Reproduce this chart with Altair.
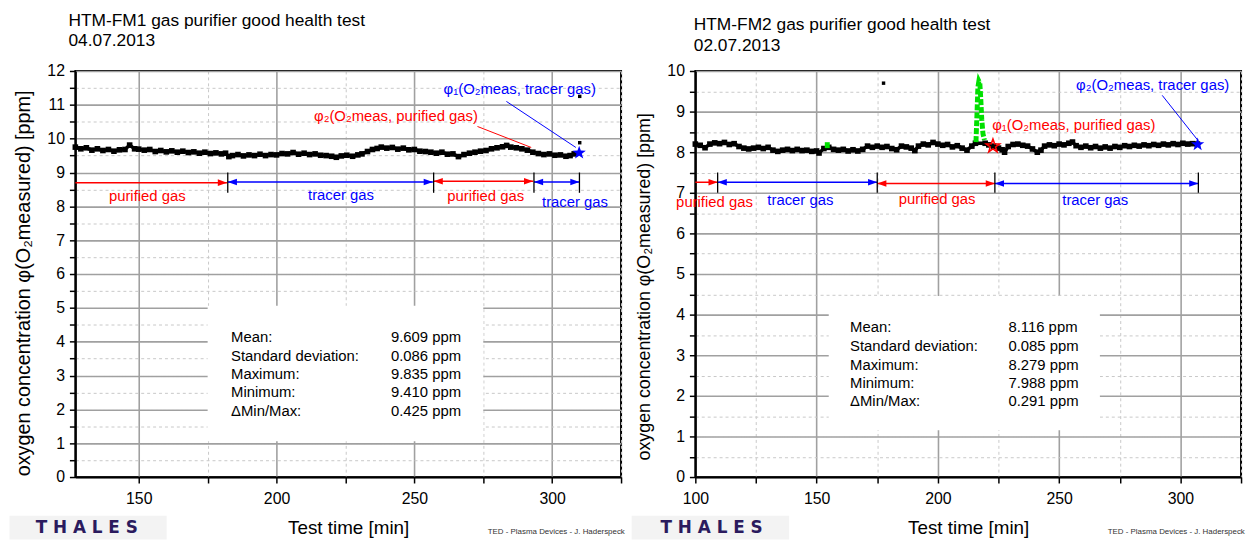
import altair as alt
import pandas as pd

FONT = "Liberation Sans"
PW, PH = 551, 410
RED, BLUE, GREEN = "#ff0000", "#0000ff", "#00e000"
STAR = ("M0,-1L0.235,-0.324L0.951,-0.309L0.380,0.124L0.588,0.809L0,0.4"
        "L-0.588,0.809L-0.380,0.124L-0.951,-0.309L-0.235,-0.324Z")
HEAD_R = "M1,0L-1,-0.72L-1,0.72Z"
HEAD_L = "M-1,0L1,-0.72L1,0.72Z"

X_TITLE = "Test time [min]"
Y_TITLE = "oxygen concentration φ(O₂measured) [ppm]"
STAT_LABELS = ["Mean:", "Standard deviation:", "Maximum:", "Minimum:", "ΔMin/Max:"]
LOGO = "THALES"
FOOTER = "TED - Plasma Devices - J. Haderspeck"
GAS_TEXT = ["purified gas", "tracer gas", "purified gas", "tracer gas"]
GAS_COL = [RED, BLUE, RED, BLUE]

# ---------------- left panel: HTM-FM1 ----------------
L_TITLE = ["HTM-FM1 gas purifier good health test", "04.07.2013"]
L_XDOM = [127, 325]
L_YDOM = [0, 12]
L_XTICKS = [150, 175, 200, 225, 250, 275, 300, 325]
L_YTICKS = [0, 0.5, 1, 1.5, 2, 2.5, 3, 3.5, 4, 4.5, 5, 5.5, 6, 6.5, 7, 7.5, 8, 8.5, 9, 9.5, 10, 10.5, 11, 11.5, 12]
L_T = [127, 129, 131, 133, 135, 137, 139, 141, 143, 145,
       146.7, 148.5, 150, 152, 154, 156, 158, 160, 162, 164,
       166, 168, 170, 172, 174, 176, 178, 180, 181.5, 182.7,
       184, 186, 188, 190, 192, 194, 196, 198, 200, 202,
       204, 206, 208, 210, 212, 214, 216, 218, 220, 221.7,
       223.5, 225.5, 227.6, 229.5, 231, 233, 234.8, 236.5, 238, 240,
       242, 244, 246, 248, 250, 252, 254, 256, 258, 260,
       262, 264, 266, 268, 270, 272, 274, 276, 278, 280,
       282, 283.5, 285, 287, 289, 291, 293, 295, 297, 299,
       301, 303, 305, 306.5, 308]
L_V = [9.75, 9.70, 9.73, 9.66, 9.70, 9.65, 9.68, 9.63, 9.67, 9.68,
       9.81, 9.70, 9.69, 9.66, 9.68, 9.62, 9.65, 9.61, 9.64, 9.60,
       9.63, 9.59, 9.61, 9.57, 9.60, 9.56, 9.58, 9.55, 9.57, 9.47,
       9.50, 9.53, 9.49, 9.52, 9.50, 9.54, 9.50, 9.53, 9.52, 9.56,
       9.55, 9.59, 9.54, 9.57, 9.53, 9.55, 9.51, 9.50, 9.48, 9.45,
       9.49, 9.51, 9.48, 9.52, 9.55, 9.62, 9.68, 9.71, 9.75, 9.72,
       9.74, 9.69, 9.72, 9.67, 9.68, 9.63, 9.62, 9.60, 9.57, 9.60,
       9.54, 9.55, 9.47, 9.53, 9.57, 9.60, 9.63, 9.65, 9.70, 9.73,
       9.76, 9.80, 9.75, 9.73, 9.70, 9.66, 9.60, 9.56, 9.53, 9.55,
       9.51, 9.52, 9.48, 9.50, 9.55]
L_DOT_T = [310.0, 310.0]
L_DOT_V = [11.25, 9.88]
L_SEG_X1 = [127.0, 182.3, 257.0, 293.4]
L_SEG_X2 = [182.0, 256.7, 293.1, 309.9]
L_SEG_Y = [8.70, 8.72, 8.74, 8.72]
L_SEG_BOTH = [False, True, True, True]
L_TICK_X = [182.3, 257.0, 293.4, 309.9]
L_TICK_Y = [8.40, 9.00]
L_GAS_X = [153.1, 223.4, 275.9, 308.3]
L_GAS_Y = [8.30, 8.34, 8.31, 8.12]
L_NOTE_TEXT = ["φ₂(O₂meas, purified gas)", "φ₁(O₂meas, tracer gas)"]
L_NOTE_X = [213.6, 260.6]
L_NOTE_Y = [10.68, 11.46]
L_NOTE_COL = [RED, BLUE]
L_LEAD_X1 = [272.9, 283.4]
L_LEAD_Y1 = [10.36, 11.10]
L_LEAD_X2 = [292.4, 308.6]
L_LEAD_Y2 = [9.74, 9.74]
L_LEAD_COL = [RED, BLUE]
L_STAR_X = [309.8]
L_STAR_Y = [9.58]
L_STAR_COL = [BLUE]
L_STAR_FILLED = [True]
L_BOX = [175.0, 275.0, 1.06, 5.06]
L_STAT_VALUES = ["9.609 ppm", "0.086 ppm", "9.835 ppm", "9.410 ppm", "0.425 ppm"]
L_STAT_X = [183.5, 241.5]
L_STAT_Y = [4.125, 3.585, 3.045, 2.505, 1.965]

# ---------------- right panel: HTM-FM2 ----------------
R_TITLE = ["HTM-FM2 gas purifier good health test", "02.07.2013"]
R_XDOM = [100, 325]
R_YDOM = [0, 10]
R_XTICKS = [100, 125, 150, 175, 200, 225, 250, 275, 300, 325]
R_YTICKS = [0, 0.5, 1, 1.5, 2, 2.5, 3, 3.5, 4, 4.5, 5, 5.5, 6, 6.5, 7, 7.5, 8, 8.5, 9, 9.5, 10]
R_T = [100, 102, 104, 106, 108, 110, 112, 114, 116, 118,
       120, 122, 124, 126, 128, 130, 132, 134, 136, 138,
       140, 142, 144, 146, 148, 150, 151, 153, 155, 157,
       159, 161, 163, 165, 167, 169, 171, 173, 175, 177,
       179, 181, 183, 185, 187, 189, 190.5, 192, 194, 196,
       198, 200, 202, 204, 206, 208, 210, 212, 214, 215.5,
       219.5, 221, 223, 225, 226.5, 227.5, 229, 231, 233, 235,
       237, 239, 241, 242.5, 244, 246, 248, 250, 252, 254,
       255.5, 257, 259, 261, 263, 265, 267, 269, 271, 273,
       275, 277, 279, 281, 283, 285, 287, 289, 291, 293,
       295, 297, 299, 301, 303, 305, 307]
R_V = [8.20, 8.17, 8.11, 8.20, 8.23, 8.21, 8.24, 8.19, 8.21, 8.14,
       8.10, 8.08, 8.10, 8.12, 8.09, 8.12, 8.05, 8.02, 8.05, 8.07,
       8.04, 8.07, 8.04, 8.05, 8.02, 8.03, 7.98, 8.09, 8.12, 8.07,
       8.05, 8.07, 8.03, 8.06, 8.03, 8.07, 8.15, 8.12, 8.15, 8.12,
       8.14, 8.09, 8.06, 8.15, 8.13, 8.10, 8.04, 8.15, 8.20, 8.18,
       8.24, 8.20, 8.17, 8.19, 8.13, 8.16, 8.10, 8.05, 8.15, 8.22,
       8.22, 8.18, 8.15, 8.10, 8.06, 8.00, 8.14, 8.19, 8.20, 8.17,
       8.15, 8.08, 8.00, 8.05, 8.15, 8.18, 8.16, 8.20, 8.18, 8.22,
       8.25, 8.16, 8.12, 8.15, 8.11, 8.14, 8.10, 8.13, 8.10, 8.14,
       8.12, 8.16, 8.14, 8.17, 8.15, 8.18, 8.16, 8.19, 8.17, 8.20,
       8.18, 8.21, 8.19, 8.22, 8.20, 8.21, 8.20]
R_GREEN_T = [154.4, 154.4, 215.7, 216.1, 216.5, 216.9, 217.3, 217.7, 218.1, 218.6, 219.2]
R_GREEN_V = [8.10, 8.25, 8.25, 8.90, 9.60, 9.75, 9.70, 9.30, 8.80, 8.45, 8.30]
R_GREEN_SEG = [0, 0, 1, 1, 1, 1, 1, 1, 1, 1, 1]
R_DOT_T = [177.6]
R_DOT_V = [9.70]
R_SEG_X1 = [100.0, 109.2, 175.0, 223.5]
R_SEG_X2 = [109.2, 175.0, 223.5, 307.4]
R_SEG_Y = [7.26, 7.26, 7.23, 7.23]
R_SEG_BOTH = [False, True, True, True]
R_TICK_X = [109.2, 175.0, 223.5, 307.4]
R_TICK_Y = [7.00, 7.50]
R_GAS_X = [107.9, 143.3, 199.7, 264.9]
R_GAS_Y = [6.77, 6.81, 6.85, 6.82]
R_NOTE_TEXT = ["φ₁(O₂meas, purified gas)", "φ₂(O₂meas, tracer gas)"]
R_NOTE_X = [222.4, 257.0]
R_NOTE_Y = [8.67, 9.65]
R_NOTE_COL = [RED, BLUE]
R_LEAD_X1 = [292.5]
R_LEAD_Y1 = [9.40]
R_LEAD_X2 = [307.1]
R_LEAD_Y2 = [8.30]
R_LEAD_COL = [BLUE]
R_STAR_X = [222.7, 307.1]
R_STAR_Y = [8.15, 8.19]
R_STAR_COL = [RED, BLUE]
R_STAR_FILLED = [False, True]
R_BOX = [155.0, 266.8, 1.15, 4.46]
R_STAT_VALUES = ["8.116 ppm", "0.085 ppm", "8.279 ppm", "7.988 ppm", "0.291 ppm"]
R_STAT_X = [163.8, 229.1]
R_STAT_Y = [3.685, 3.236, 2.769, 2.317, 1.875]


def cond(test, a, b):
    return {"condition": {"test": test, "value": a}, "value": b}


def panel(p):
    xs = alt.Scale(domain=p["xdom"], nice=False, zero=False)
    ys = alt.Scale(domain=p["ydom"], nice=False, zero=False)
    xt = "datum.value % 50 !== 0"
    yt = "datum.value % 1 !== 0"
    common = dict(labelFont=FONT, labelFontSize=16, labelColor="black",
                  labelOverlap=False, labelFlush=False,
                  tickSize=6, tickColor="black", tickWidth=1.5,
                  domainColor="black", domainWidth=2, grid=True,
                  titleFont=FONT, titleFontWeight="normal", titleColor="black")
    xaxis = alt.Axis(
        values=p["xticks"], labelPadding=8,
        labelExpr="datum.value % 50 === 0 ? format(datum.value, 'd') : ''",
        gridColor=cond(xt, "#c8c8c8", "#a0a0a0"),
        gridDash=cond(xt, [3, 3], [1, 0]), gridWidth=cond(xt, 1, 1.6),
        title=X_TITLE, titleFontSize=19, titleBaseline="alphabetic", titleY=57, **common)
    yaxis = alt.Axis(
        values=p["yticks"], labelPadding=5,
        labelExpr="datum.value % 1 === 0 ? format(datum.value, 'd') : ''",
        gridColor=cond(yt, "#c8c8c8", "#a0a0a0"),
        gridDash=cond(yt, [3, 3], [1, 0]), gridWidth=cond(yt, 1, 1.6),
        title=Y_TITLE, titleFontSize=p["ytsize"], titleAngle=270, titleAlign="center",
        titleBaseline="bottom", titleX=p["ytx"], titleY=p["yty"], **common)

    def X(f):
        return alt.X(f, scale=xs, axis=xaxis)

    def Y(f):
        return alt.Y(f, scale=ys, axis=yaxis)

    def C():
        return alt.Color("c:N", scale=None)

    layers = []
    b = p["box"]
    box_df = pd.DataFrame({"x1": [b[0]], "x2": [b[1]], "y1": [b[2]], "y2": [b[3]]})
    layers.append(alt.Chart(box_df).mark_rect(color="white").encode(
        x=X("x1:Q"), x2="x2:Q", y=Y("y1:Q"), y2="y2:Q"))

    ser = pd.DataFrame({"t": p["t"], "v": p["v"]})
    layers.append(alt.Chart(ser).mark_line(color="black", strokeWidth=3.5).encode(x=X("t:Q"), y=Y("v:Q")))
    layers.append(alt.Chart(ser).mark_point(shape="square", filled=True, color="black", size=32, opacity=1)
                  .encode(x=X("t:Q"), y=Y("v:Q")))
    if p.get("gt"):
        g = pd.DataFrame({"t": p["gt"], "v": p["gv"], "s": p["gs"], "i": list(range(len(p["gt"])))})
        layers.append(alt.Chart(g).mark_line(color=GREEN, strokeWidth=5, strokeDash=[6, 2]).encode(
            x=X("t:Q"), y=Y("v:Q"), detail="s:N", order="i:Q"))
    dots = pd.DataFrame({"t": p["dt"], "v": p["dv"]})
    layers.append(alt.Chart(dots).mark_point(shape="square", filled=True, color="black", size=12, opacity=1)
                  .encode(x=X("t:Q"), y=Y("v:Q")))

    cols = GAS_COL
    seg = pd.DataFrame({"x1": p["sx1"], "x2": p["sx2"], "y": p["sy"], "c": cols})
    layers.append(alt.Chart(seg).mark_rule(strokeWidth=1.5).encode(
        x=X("x1:Q"), x2="x2:Q", y=Y("y:Q"), color=C()))
    hr = pd.DataFrame({"x": p["sx2"], "y": p["sy"], "c": cols})
    layers.append(alt.Chart(hr).mark_point(shape=HEAD_R, filled=True, size=86, opacity=1,
                                           xOffset=-4.6).encode(x=X("x:Q"), y=Y("y:Q"), color=C()))
    idx = [i for i, both in enumerate(p["sboth"]) if both]
    hl = pd.DataFrame({"x": [p["sx1"][i] for i in idx], "y": [p["sy"][i] for i in idx],
                       "c": [cols[i] for i in idx]})
    layers.append(alt.Chart(hl).mark_point(shape=HEAD_L, filled=True, size=86, opacity=1,
                                           xOffset=4.6).encode(x=X("x:Q"), y=Y("y:Q"), color=C()))
    tk = pd.DataFrame({"x": p["tx"], "y1": [p["ty"][0]] * len(p["tx"]), "y2": [p["ty"][1]] * len(p["tx"])})
    layers.append(alt.Chart(tk).mark_rule(color="black", strokeWidth=1.3).encode(
        x=X("x:Q"), y=Y("y1:Q"), y2="y2:Q"))
    gas = pd.DataFrame({"s": GAS_TEXT, "x": p["gx"], "y": p["gy"], "c": cols})
    layers.append(alt.Chart(gas).mark_text(font=FONT, fontSize=15, align="center", baseline="middle").encode(
        x=X("x:Q"), y=Y("y:Q"), text="s:N", color=C()))

    notes = pd.DataFrame({"s": p["nt"], "x": p["nx"], "y": p["ny"], "c": p["nc"]})
    layers.append(alt.Chart(notes).mark_text(font=FONT, fontSize=15, align="left", baseline="middle").encode(
        x=X("x:Q"), y=Y("y:Q"), text="s:N", color=C()))
    lead = pd.DataFrame({"x1": p["lx1"], "y1": p["ly1"], "x2": p["lx2"], "y2": p["ly2"], "c": p["lc"]})
    layers.append(alt.Chart(lead).mark_rule(strokeWidth=1).encode(
        x=X("x1:Q"), y=Y("y1:Q"), x2="x2:Q", y2="y2:Q", color=C()))
    for sx, sy, sc, sf in zip(p["stx"], p["sty"], p["stc"], p["stf"]):
        st = pd.DataFrame({"x": [sx], "y": [sy]})
        layers.append(alt.Chart(st).mark_point(shape=STAR, size=200, filled=sf, color=sc, opacity=1,
                                               strokeWidth=1.6).encode(x=X("x:Q"), y=Y("y:Q")))

    n = len(STAT_LABELS)
    stats = pd.DataFrame({"s": STAT_LABELS + p["sv"],
                          "x": [p["stat_x"][0]] * n + [p["stat_x"][1]] * n,
                          "y": p["stat_y"] + p["stat_y"]})
    layers.append(alt.Chart(stats).mark_text(font=FONT, fontSize=15, align="left", baseline="middle",
                                             color="black").encode(x=X("x:Q"), y=Y("y:Q"), text="s:N"))

    one = pd.DataFrame({"s": ["  ".join(LOGO)], "f": [FOOTER]})
    layers.append(alt.Chart(one).mark_rect(color="#f3f3f3").encode(
        x=alt.value(p["bgx"][0]), x2=alt.value(p["bgx"][1]), y=alt.value(449), y2=alt.value(473)))
    layers.append(alt.Chart(one).mark_text(font="DejaVu Sans", fontWeight="bold", fontSize=17,
                                           color="#2b1b5e", align="center", baseline="alphabetic").encode(
        x=alt.value(p["logox"]), y=alt.value(467), text="s:N"))
    layers.append(alt.Chart(one).mark_text(font=FONT, fontSize=8, color="#333333", align="right",
                                           baseline="alphabetic").encode(
        x=alt.value(PW + 3.8), y=alt.value(468), text="f:N"))

    return alt.layer(*layers).properties(
        width=PW, height=PH,
        title=alt.TitleParams(text=p["title"], anchor="start", frame="group", dx=p["tdx"],
                              fontSize=17.5, font=FONT, fontWeight="normal", color="black",
                              baseline="bottom", lineHeight=p["tlh"], offset=p["toff"]))


left = panel(dict(
    xdom=L_XDOM, ydom=L_YDOM, xticks=L_XTICKS, yticks=L_YTICKS, t=L_T, v=L_V,
    dt=L_DOT_T, dv=L_DOT_V, sx1=L_SEG_X1, sx2=L_SEG_X2, sy=L_SEG_Y, sboth=L_SEG_BOTH,
    tx=L_TICK_X, ty=L_TICK_Y, gx=L_GAS_X, gy=L_GAS_Y, nt=L_NOTE_TEXT, nx=L_NOTE_X, ny=L_NOTE_Y,
    nc=L_NOTE_COL, lx1=L_LEAD_X1, ly1=L_LEAD_Y1, lx2=L_LEAD_X2, ly2=L_LEAD_Y2, lc=L_LEAD_COL,
    stx=L_STAR_X, sty=L_STAR_Y, stc=L_STAR_COL, stf=L_STAR_FILLED, box=L_BOX,
    sv=L_STAT_VALUES, stat_x=L_STAT_X, stat_y=L_STAT_Y, title=L_TITLE,
    ytsize=20, ytx=-42, yty=214, bgx=[-66.5, 92.2], logox=11.5,
    tdx=-7, tlh=20, toff=-4,
))

right = panel(dict(
    xdom=R_XDOM, ydom=R_YDOM, xticks=R_XTICKS, yticks=R_YTICKS, t=R_T, v=R_V,
    gt=R_GREEN_T, gv=R_GREEN_V, gs=R_GREEN_SEG,
    dt=R_DOT_T, dv=R_DOT_V, sx1=R_SEG_X1, sx2=R_SEG_X2, sy=R_SEG_Y, sboth=R_SEG_BOTH,
    tx=R_TICK_X, ty=R_TICK_Y, gx=R_GAS_X, gy=R_GAS_Y, nt=R_NOTE_TEXT, nx=R_NOTE_X, ny=R_NOTE_Y,
    nc=R_NOTE_COL, lx1=R_LEAD_X1, ly1=R_LEAD_Y1, lx2=R_LEAD_X2, ly2=R_LEAD_Y2, lc=R_LEAD_COL,
    stx=R_STAR_X, sty=R_STAR_Y, stc=R_STAR_COL, stf=R_STAR_FILLED, box=R_BOX,
    sv=R_STAT_VALUES, stat_x=R_STAT_X, stat_y=R_STAT_Y, title=R_TITLE,
    ytsize=18, ytx=-42.6, yty=217.5, bgx=[-64.3, 94.7], logox=16.4,
    tdx=-1.6, tlh=21.7, toff=-9.7,
))

chart = alt.hconcat(left, right, spacing=75, bounds="flush",
                    padding={"left": 0, "top": 0, "right": 0, "bottom": 0}
                    ).configure_view(stroke="black", strokeWidth=2)

chart.save("out.html", embed_options={"renderer": "svg", "actions": False})
